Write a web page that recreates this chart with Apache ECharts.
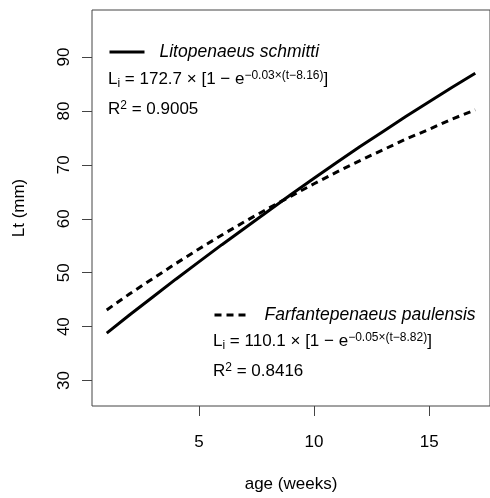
<!DOCTYPE html>
<html>
<head>
<meta charset="utf-8">
<script src="https://cdn.jsdelivr.net/npm/echarts@6/dist/echarts.min.js"></script>
<style>
  html, body { margin: 0; padding: 0; background: #ffffff; }
  #chart { width: 490px; height: 498px; }
</style>
</head>
<body>
<div id="chart"></div>
<script>
// ---- data ----
var ageWeeks = [1, 2, 3, 4, 5, 6, 7, 8, 9, 10, 11, 12, 13, 14, 15, 16, 17];
var schmittiLt = [38.8, 42.2, 45.5, 48.8, 52.0, 55.2, 58.3, 61.4, 64.5, 67.5, 70.5, 73.4, 76.2, 79.0, 81.7, 84.4, 87.0];
var paulensisLt = [43.1, 46.1, 48.9, 51.7, 54.4, 57.0, 59.5, 61.9, 64.2, 66.5, 68.7, 70.8, 72.8, 74.8, 76.6, 78.5, 80.2];
var xTicks = [5, 10, 15];
var yTicks = [30, 40, 50, 60, 70, 80, 90];
var seriesNames = ['Litopenaeus schmitti', 'Farfantepenaeus paulensis'];

var FONT = "'Liberation Sans', Arial, Helvetica, sans-serif";
var AX = '#444';

function pairs(xs, ys) { return xs.map(function (x, i) { return [x, ys[i]]; }); }

var richEq = {
  b:   { fontSize: 17, fontFamily: FONT, color: '#000', lineHeight: 20, padding: [0, 0, 2, 0], verticalAlign: 'bottom' },
  sub: { fontSize: 12, fontFamily: FONT, color: '#000', lineHeight: 14, verticalAlign: 'bottom' },
  sup: { fontSize: 12, fontFamily: FONT, color: '#000', lineHeight: 14, padding: [0, 0, 13, 0], verticalAlign: 'top' }
};

function eqText(a, k, t0) {
  return '{b|L}{sub|i}{b| = ' + a + ' \u00d7 [1 \u2212 e}{sup|\u2212' + k + '\u00d7(t\u2212' + t0 + ')}{b|]}';
}
function r2Text(r) {
  return '{b|R}{sup|2}{b| = ' + r + '}';
}

var chart = echarts.init(document.getElementById('chart'), null, { renderer: 'canvas' });

var legendCommon = {
  orient: 'horizontal',
  padding: 0,
  itemWidth: 35,
  itemHeight: 14,
  selectedMode: false,
  itemStyle: { opacity: 0 },
  lineStyle: { width: 3 },
  textStyle: { fontFamily: FONT, fontSize: 17.5, fontStyle: 'italic', color: '#000', padding: [0, 0, 0, 10] }
};

var option = {
  animation: false,
  backgroundColor: '#ffffff',
  grid: {
    left: 92, top: 10, right: -4, bottom: 85,
    show: true, borderColor: AX, borderWidth: 1, backgroundColor: 'transparent'
  },
  legend: [
    Object.assign({}, legendCommon, { data: [seriesNames[0]], left: 108, top: 43 }),
    Object.assign({}, legendCommon, { data: [seriesNames[1]], left: 213, top: 306 })
  ],
  xAxis: {
    type: 'value',
    min: 0.36, max: 17.64,
    name: 'age (weeks)',
    nameLocation: 'middle',
    nameGap: 70,
    nameTextStyle: { fontFamily: FONT, fontSize: 17, color: '#000' },
    axisLine: { show: false },
    splitLine: { show: false },
    axisTick: { show: true, length: 10, customValues: xTicks, lineStyle: { color: AX, width: 1 } },
    axisLabel: { customValues: xTicks, margin: 28, fontFamily: FONT, fontSize: 17, color: '#000' }
  },
  yAxis: {
    type: 'value',
    min: 25.28, max: 98.72,
    name: 'Lt (mm)',
    nameLocation: 'middle',
    nameGap: 64,
    nameRotate: 90,
    nameTextStyle: { fontFamily: FONT, fontSize: 17, color: '#000' },
    axisLine: { show: false },
    splitLine: { show: false },
    axisTick: { show: true, length: 10, customValues: yTicks, lineStyle: { color: AX, width: 1 } },
    axisLabel: { customValues: yTicks, rotate: 90, margin: 19, fontFamily: FONT, fontSize: 17, color: '#000' }
  },
  series: [
    {
      name: seriesNames[0], type: 'line', data: pairs(ageWeeks, schmittiLt),
      symbol: 'none', showSymbol: false, smooth: false,
      lineStyle: { color: '#000', width: 3, type: 'solid' },
      itemStyle: { color: '#000' }
    },
    {
      name: seriesNames[1], type: 'line', data: pairs(ageWeeks, paulensisLt),
      symbol: 'none', showSymbol: false, smooth: false,
      lineStyle: { color: '#000', width: 3, type: [7, 5] },
      itemStyle: { color: '#000' }
    }
  ],
  graphic: [
    { type: 'text', x: 108, y: 80, style: { text: eqText('172.7', '0.03', '8.16'), rich: richEq, verticalAlign: 'middle', align: 'left' } },
    { type: 'text', x: 108, y: 110, style: { text: r2Text('0.9005'), rich: richEq, verticalAlign: 'middle', align: 'left' } },
    { type: 'text', x: 213, y: 342, style: { text: eqText('110.1', '0.05', '8.82'), rich: richEq, verticalAlign: 'middle', align: 'left' } },
    { type: 'text', x: 213, y: 372, style: { text: r2Text('0.8416'), rich: richEq, verticalAlign: 'middle', align: 'left' } }
  ]
};

chart.setOption(option);
</script>
</body>
</html>
